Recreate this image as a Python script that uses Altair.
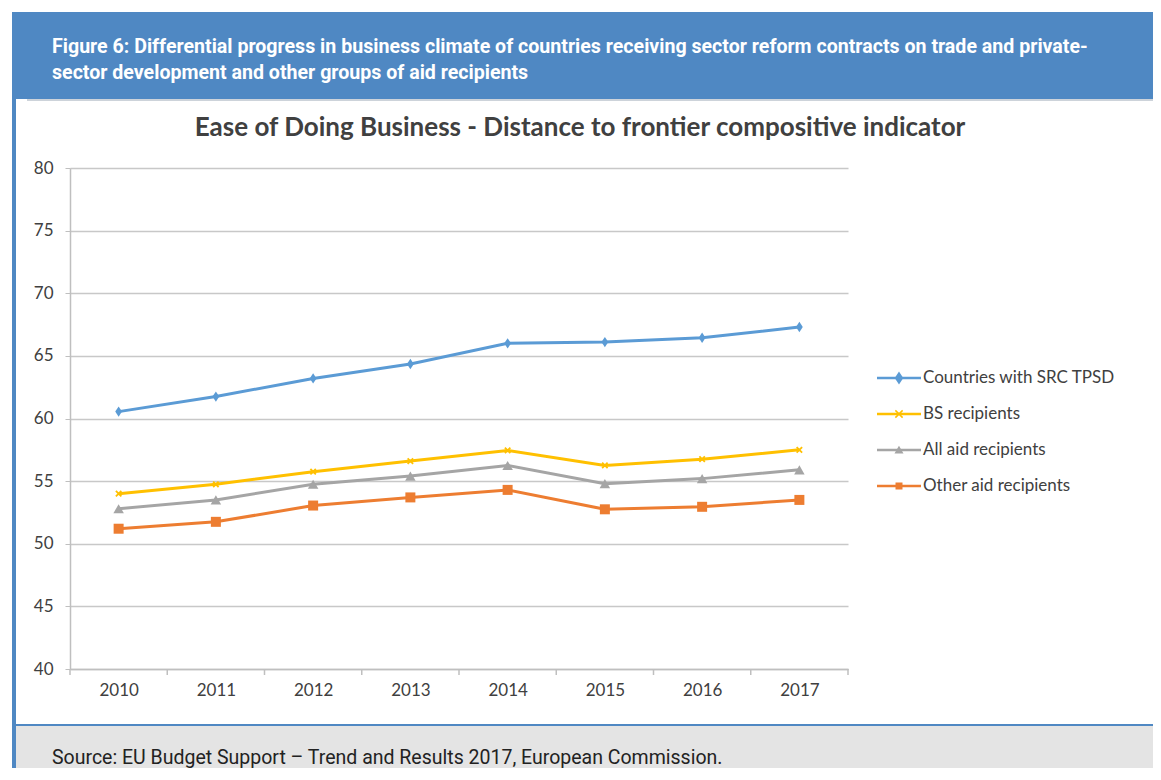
import altair as alt
import pandas as pd

years = [2010, 2011, 2012, 2013, 2014, 2015, 2016, 2017]
series_names = ["Countries with SRC TPSD", "BS recipients", "All aid recipients", "Other aid recipients"]
src_tpsd = [60.55, 61.75, 63.2, 64.35, 66.0, 66.1, 66.45, 67.3]
bs_recipients = [54.0, 54.75, 55.75, 56.6, 57.45, 56.25, 56.75, 57.5]
all_aid = [52.8, 53.5, 54.75, 55.4, 56.25, 54.8, 55.2, 55.9]
other_aid = [51.2, 51.75, 53.05, 53.7, 54.3, 52.75, 52.95, 53.5]
colors = ["#5b9bd5", "#ffc000", "#a5a5a5", "#ed7d31"]

header_line1 = "Figure 6: Differential progress in business climate of countries receiving sector reform contracts on trade and private-"
header_line2 = "sector development and other groups of aid recipients"
chart_title = "Ease of Doing Business - Distance to frontier compositive indicator"
source_text = "Source: EU Budget Support \u2013 Trend and Results 2017, European Commission."

rows = []
for name, vals in zip(series_names, [src_tpsd, bs_recipients, all_aid, other_aid]):
    for yr, v in zip(years, vals):
        rows.append({"year": yr, "value": v, "series": name})
df = pd.DataFrame(rows)
boundaries = [y - 0.5 for y in years] + [years[-1] + 0.5]
bdf = pd.DataFrame({"year": boundaries})
legend_df = pd.DataFrame({"series": series_names})

W, H = 778, 501
RIGHT = 1083
BOTTOM = 600

xscale = alt.Scale(domain=[years[0] - 0.5, years[-1] + 0.5], nice=False, zero=False)
yscale = alt.Scale(domain=[40, 80], nice=False, zero=False)

one = pd.DataFrame({"k": [0]})
BLUE = "#4f88c3"

def rect(x, x2, y, y2, color):
    return alt.Chart(one).mark_rect(color=color).encode(
        x=alt.value(x), x2=alt.value(x2), y=alt.value(y), y2=alt.value(y2))

def text(x, y, s, **kw):
    return alt.Chart(one).mark_text(text=s, baseline="middle", **kw).encode(
        x=alt.value(x), y=alt.value(y))

deco = [
    rect(-58, RIGHT, -156, -69, BLUE),
    rect(-43, RIGHT, -69, -67, "#cdd3da"),
    rect(-58, -54, -69, BOTTOM, BLUE),
    rect(-54, RIGHT, 558, BOTTOM, "#e4e4e4"),
    rect(-54, RIGHT, 556, 558, BLUE),
    text(-18, -121, header_line1, align="left", font="Roboto", fontSize=19.6, fontWeight="bold", color="white"),
    text(-18, -95, header_line2, align="left", font="Roboto", fontSize=19.6, fontWeight="bold", color="white"),
    text(510, -40, chart_title, align="center", font="Lato", fontSize=26, fontWeight="bold", color="#404040"),
    text(-18, 590, source_text, align="left", font="Roboto", fontSize=19.5, color="#222222"),
]

base = alt.Chart(df)
X = alt.X("year:Q", scale=xscale, title=None)
Y = alt.Y("value:Q", scale=yscale, title=None)

lines = base.mark_line(strokeWidth=3).encode(
    x=alt.X("year:Q", scale=xscale, title=None,
            axis=alt.Axis(values=years, format="d", ticks=False, tickSize=0, grid=False,
                          domain=True, domainColor="#bfbfbf", domainWidth=1.5,
                          labelPadding=13, labelFont="Lato", labelFontSize=17,
                          labelColor="#404040")),
    y=alt.Y("value:Q", scale=yscale, title=None,
            axis=alt.Axis(values=list(range(40, 81, 5)), grid=True, gridColor="#c8c8c8",
                          gridWidth=1.3, domainColor="#bfbfbf", domainWidth=1.5,
                          tickColor="#bfbfbf", tickSize=5, labelPadding=12,
                          labelFont="Lato", labelFontSize=17, labelColor="#404040")),
    stroke=alt.Stroke("series:N", scale=alt.Scale(domain=series_names, range=colors), legend=None),
    detail="series:N",
)

xticks = alt.Chart(bdf).mark_rule(color="#bfbfbf", strokeWidth=1.5).encode(
    x=X, y=alt.value(H), y2=alt.value(H + 6),
)

marker_specs = [
    ("M0,-1.3L0.85,0L0,1.3L-0.85,0Z", 64, True),
    ("M-1,-1L1,1M-1,1L1,-1", 30, False),
    ("triangle-up", 110, True),
    ("square", 100, True),
]
points = []
for name, col, (shape, size, filled) in zip(series_names, colors, marker_specs):
    p = base.transform_filter(alt.datum.series == name).mark_point(
        shape=shape, size=size, filled=filled, opacity=1, color=col,
        strokeWidth=1.8 if not filled else 1).encode(x=X, y=Y)
    points.append(p)

main = alt.layer(*deco, lines, xticks, *points)

# legend, drawn from the series list through its own point scale
leg_y = alt.Y("series:N", scale=alt.Scale(type="point", domain=series_names, range=[210, 318], padding=0),
              axis=None, title=None)
leg_color = alt.Color("series:N", scale=alt.Scale(domain=series_names, range=colors), legend=None)
lbase = alt.Chart(legend_df)
leg_rule = lbase.mark_rule(strokeWidth=2.5).encode(
    x=alt.value(807), x2=alt.value(851), y=leg_y, color=leg_color)
leg_pts = lbase.mark_point(filled=True, strokeWidth=1.5, opacity=1).encode(
    x=alt.value(829), y=leg_y, color=leg_color,
    stroke=alt.Stroke("series:N", scale=alt.Scale(domain=series_names, range=colors), legend=None),
    shape=alt.Shape("series:N", scale=alt.Scale(domain=series_names,
                    range=[s for s, _, _ in marker_specs]), legend=None),
    size=alt.Size("series:N", scale=alt.Scale(domain=series_names,
                  range=[z for _, z, _ in marker_specs]), legend=None),
)
leg_txt = lbase.mark_text(align="left", baseline="middle", font="Lato", fontSize=17,
                          color="#404040").encode(
    x=alt.value(853), y=leg_y, text=alt.Text("series:N"))
legend_group = alt.layer(leg_rule, leg_pts, leg_txt)

chart = alt.layer(main, legend_group).resolve_scale(y="independent").properties(
    width=W, height=H,
    padding={"left": 4, "top": 4, "right": 0, "bottom": 0},
    background="white",
).configure_view(stroke=None)

chart.save("out.html", embed_options={"renderer": "svg", "actions": False})
